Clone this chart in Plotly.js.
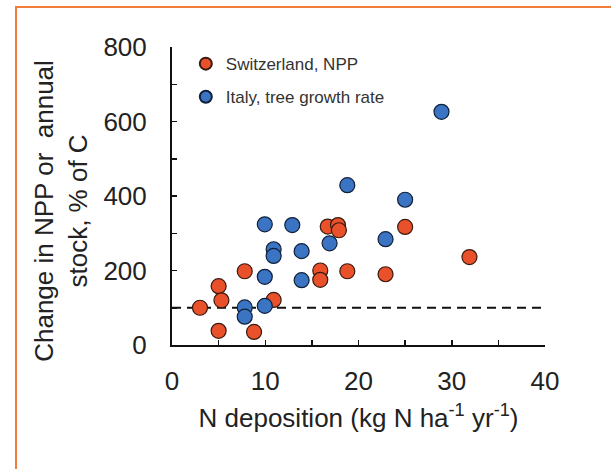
<!DOCTYPE html>
<html>
<head>
<meta charset="utf-8">
<script src="https://cdn.plot.ly/plotly-3.0.1.min.js"></script>
<style>
  html, body { margin: 0; padding: 0; background: #fff; }
  #wrap { position: relative; width: 611px; height: 469px; overflow: hidden; }
  #chart { position: absolute; left: 0; top: 0; width: 611px; height: 469px; }
  #frame { position: absolute; left: 15px; top: 6px; width: 700px; height: 600px;
           border-top: 2px solid #EE7D3E; border-left: 2px solid #EE7D3E; pointer-events: none; }
</style>
</head>
<body>
<div id="wrap">
  <div id="chart"></div>
  <div id="frame"></div>
</div>
<script>
// Switzerland, NPP
const swissX = [3, 5, 5.3, 5, 7.8, 8.8, 10.9, 15.9, 15.9, 16.7, 17.8, 17.9, 18.8, 22.9, 25.0, 31.9];
const swissY = [100, 158, 120, 38, 198, 35, 121, 200, 175, 318, 322, 308, 198, 190, 317, 236];
// Italy, tree growth rate
const italyX = [28.9, 18.8, 25.0, 9.95, 12.9, 22.9, 16.9, 10.9, 10.9, 13.9, 9.95, 13.9, 7.8, 7.8, 9.95];
const italyY = [626, 429, 390, 324, 322, 284, 273, 257, 239, 252, 183, 174, 101, 76, 105];

const refLineX = [0, 40];
const refLineY = [100, 100];

const xTickVals = [0, 10, 20, 30, 40];
const xTickText = ['0', '10', '20', '30', '40'];
const yTickVals = [0, 200, 400, 600, 800];
const yTickText = ['0', '200', '400', '600', '800'];

const FONT = 'Liberation Sans, Arial, sans-serif';
const RED = '#E9512B';
const BLUE = '#3B74C3';

const traces = [
  {
    x: refLineX, y: refLineY, mode: 'lines', showlegend: false, hoverinfo: 'skip',
    line: { color: '#111', width: 2, dash: '9px,6px' }
  },
  {
    x: swissX, y: swissY, mode: 'markers', name: 'Switzerland, NPP', legendgroup: 'a',
    marker: { color: RED, size: 15, line: { color: '#3a1a10', width: 1.2 } }
  },
  {
    x: italyX, y: italyY, mode: 'markers', name: 'Italy, tree growth rate', legendgroup: 'b',
    marker: { color: BLUE, size: 15, line: { color: '#10203a', width: 1.2 } }
  }
];

const layout = {
  width: 611, height: 469,
  margin: { l: 172, r: 66, t: 47, b: 124 },
  paper_bgcolor: '#fff', plot_bgcolor: '#fff',
  font: { family: FONT, color: '#222' },
  showlegend: true,
  legend: {
    x: 0.037, y: 1.003, xanchor: 'left', yanchor: 'top',
    bgcolor: 'rgba(0,0,0,0)', font: { size: 17, family: FONT, color: '#333' },
    itemsizing: 'constant', traceorder: 'grouped', tracegroupgap: 8
  },
  xaxis: {
    range: [0, 40], showgrid: false, zeroline: false,
    showline: true, linecolor: '#111', linewidth: 2,
    ticks: 'inside', ticklen: 5, tickwidth: 1.5, tickcolor: '#111',
    tickmode: 'array', tickvals: xTickVals, ticktext: xTickText,
    minor: { dtick: 5, ticks: 'inside', ticklen: 5, tickwidth: 1.5, tickcolor: '#111', showgrid: false },
    tickfont: { size: 26, family: FONT, color: '#222' },
    ticklabelstandoff: 12,
    title: { text: 'N deposition (kg N ha<sup>-1</sup> yr<sup>-1</sup>)', font: { size: 26, family: FONT, color: '#222' }, standoff: 14 }
  },
  yaxis: {
    range: [0, 800], showgrid: false, zeroline: false,
    showline: true, linecolor: '#111', linewidth: 2,
    ticks: 'inside', ticklen: 5, tickwidth: 1.5, tickcolor: '#111',
    tickmode: 'array', tickvals: yTickVals, ticktext: yTickText,
    minor: { dtick: 100, ticks: 'inside', ticklen: 5, tickwidth: 1.5, tickcolor: '#111', showgrid: false },
    tickfont: { size: 26, family: FONT, color: '#222' },
    ticklabelstandoff: 18
  },
  annotations: [{
    text: 'Change in NPP or  annual<br>stock, % of C',
    xref: 'paper', yref: 'paper', x: -0.296, y: 0.449,
    xanchor: 'center', yanchor: 'middle', textangle: -90, showarrow: false,
    font: { size: 26, family: FONT, color: '#222' }
  }]
};

Plotly.newPlot('chart', traces, layout, { displayModeBar: false, staticPlot: true });
</script>
</body>
</html>
